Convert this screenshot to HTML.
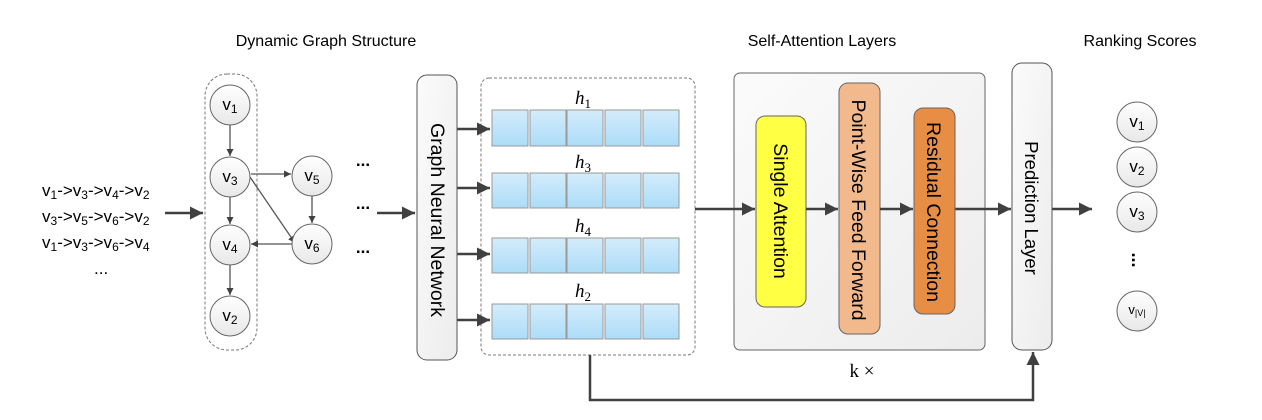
<!DOCTYPE html>
<html><head><meta charset="utf-8"><style>
body{margin:0;background:#fff}
svg{display:block;font-family:"Liberation Sans",sans-serif}
</style></head><body>
<svg width="1262" height="420" viewBox="0 0 1262 420" xmlns="http://www.w3.org/2000/svg">
<defs>
<marker id="a" viewBox="0 0 10 10" refX="10" refY="5" markerWidth="7" markerHeight="7" orient="auto" markerUnits="userSpaceOnUse"><path d="M0,0L10,5L0,10z" fill="#404040"/></marker>
<marker id="b" viewBox="0 0 10 10" refX="10" refY="5" markerWidth="13" markerHeight="13" orient="auto" markerUnits="userSpaceOnUse"><path d="M0,0L10,5L0,10z" fill="#404040"/></marker>
<linearGradient id="g" x1="0" y1="0" x2="0" y2="1"><stop offset="0" stop-color="#fff"/><stop offset="1" stop-color="#e8e8e8"/></linearGradient>
<linearGradient id="c" x1="0" y1="0" x2="0" y2="1"><stop offset="0" stop-color="#d4ecfb"/><stop offset="1" stop-color="#acdcf8"/></linearGradient>
<linearGradient id="p" x1="0" y1="0" x2="1" y2="1"><stop offset="0" stop-color="#fbfbfb"/><stop offset="1" stop-color="#ececec"/></linearGradient>
</defs>
<g font-size="16" fill="#000">
<text x="326" y="46" text-anchor="middle">Dynamic Graph Structure</text>
<text x="822" y="46" text-anchor="middle">Self-Attention Layers</text>
<text x="1140" y="46" text-anchor="middle">Ranking Scores</text>
</g>
<g font-size="17">
<text x="42" y="196">v<tspan font-size="12" dy="3">1</tspan><tspan dy="-3">-&gt;v</tspan><tspan font-size="12" dy="3">3</tspan><tspan dy="-3">-&gt;v</tspan><tspan font-size="12" dy="3">4</tspan><tspan dy="-3">-&gt;v</tspan><tspan font-size="12" dy="3">2</tspan></text>
<text x="42" y="222">v<tspan font-size="12" dy="3">3</tspan><tspan dy="-3">-&gt;v</tspan><tspan font-size="12" dy="3">5</tspan><tspan dy="-3">-&gt;v</tspan><tspan font-size="12" dy="3">6</tspan><tspan dy="-3">-&gt;v</tspan><tspan font-size="12" dy="3">2</tspan></text>
<text x="42" y="248">v<tspan font-size="12" dy="3">1</tspan><tspan dy="-3">-&gt;v</tspan><tspan font-size="12" dy="3">3</tspan><tspan dy="-3">-&gt;v</tspan><tspan font-size="12" dy="3">6</tspan><tspan dy="-3">-&gt;v</tspan><tspan font-size="12" dy="3">4</tspan></text>
<text x="94" y="274">...</text>
</g>
<rect x="205" y="74" width="52" height="276" rx="22" fill="none" stroke="#777" stroke-dasharray="3,2"/>
<rect x="481" y="78" width="214" height="277" rx="8" fill="none" stroke="#777" stroke-dasharray="3,2"/>
<rect x="734" y="73" width="251" height="277" rx="6" fill="url(#p)" stroke="#666"/>
<g stroke="#404040" stroke-width="2.5" fill="none">
<line x1="165" y1="213" x2="203" y2="213" marker-end="url(#b)"/>
<line x1="377" y1="213" x2="415" y2="213" marker-end="url(#b)"/>
<line x1="457" y1="129" x2="490" y2="129" marker-end="url(#b)"/>
<line x1="457" y1="188" x2="490" y2="188" marker-end="url(#b)"/>
<line x1="457" y1="254" x2="490" y2="254" marker-end="url(#b)"/>
<line x1="457" y1="320" x2="490" y2="320" marker-end="url(#b)"/>
<line x1="695" y1="209" x2="755" y2="209" marker-end="url(#b)"/>
<line x1="955" y1="209" x2="1011" y2="209" marker-end="url(#b)"/>
<line x1="1052" y1="209" x2="1092" y2="209" marker-end="url(#b)"/>
<polyline points="590,355 590,400 1033,400 1033,352" marker-end="url(#b)"/>
</g>
<g stroke="#555" stroke-width="1.3" fill="none">
<line x1="230" y1="125" x2="230" y2="156" marker-end="url(#a)"/>
<line x1="230" y1="197" x2="230" y2="224" marker-end="url(#a)"/>
<line x1="230" y1="265" x2="230" y2="295" marker-end="url(#a)"/>
<line x1="251" y1="174" x2="291" y2="174" marker-end="url(#a)"/>
<line x1="250" y1="177" x2="295" y2="243" marker-end="url(#a)"/>
<line x1="312" y1="196" x2="312" y2="223" marker-end="url(#a)"/>
<line x1="292" y1="244" x2="251" y2="244" marker-end="url(#a)"/>
</g>
<g fill="url(#g)" stroke="#666" stroke-width="1">
<circle cx="230" cy="105" r="20"/><circle cx="230" cy="177" r="20"/><circle cx="230" cy="245" r="20"/><circle cx="230" cy="316" r="20"/>
<circle cx="312" cy="176" r="20"/><circle cx="312" cy="244" r="20"/>
<circle cx="1137" cy="122" r="20"/><circle cx="1137" cy="167" r="20"/><circle cx="1137" cy="212" r="20"/><circle cx="1137" cy="311" r="20"/>
</g>
<g font-size="17" text-anchor="middle">
<text x="230" y="110">v<tspan font-size="12" dy="3">1</tspan></text>
<text x="230" y="182">v<tspan font-size="12" dy="3">3</tspan></text>
<text x="230" y="250">v<tspan font-size="12" dy="3">4</tspan></text>
<text x="230" y="321">v<tspan font-size="12" dy="3">2</tspan></text>
<text x="312" y="181">v<tspan font-size="12" dy="3">5</tspan></text>
<text x="312" y="249">v<tspan font-size="12" dy="3">6</tspan></text>
<text x="1137" y="127">v<tspan font-size="12" dy="3">1</tspan></text>
<text x="1137" y="172">v<tspan font-size="12" dy="3">2</tspan></text>
<text x="1137" y="217">v<tspan font-size="12" dy="3">3</tspan></text>
<text x="1137" y="314" font-size="13">v<tspan font-size="9" dy="2">|V|</tspan></text>
</g>
<g font-size="17" font-weight="bold" text-anchor="middle">
<text x="363" y="166">...</text><text x="363" y="209">...</text><text x="363" y="253">...</text>
</g>
<text x="1137" y="265" font-size="18" font-weight="bold" text-anchor="middle" transform="rotate(90 1137 260)">...</text>
<rect x="417" y="75" width="40" height="285" rx="10" fill="url(#p)" stroke="#555"/>
<text transform="translate(431,220) rotate(90)" font-size="19.5" text-anchor="middle">Graph Neural Network</text>
<g fill="url(#c)" stroke="#999">
<rect x="492" y="110" width="36" height="36"/><rect x="530" y="110" width="36" height="36"/><rect x="567" y="110" width="36" height="36"/><rect x="605" y="110" width="36" height="36"/><rect x="643" y="110" width="36" height="36"/>
<rect x="492" y="173" width="36" height="35"/><rect x="530" y="173" width="36" height="35"/><rect x="567" y="173" width="36" height="35"/><rect x="605" y="173" width="36" height="35"/><rect x="643" y="173" width="36" height="35"/>
<rect x="492" y="238" width="36" height="35"/><rect x="530" y="238" width="36" height="35"/><rect x="567" y="238" width="36" height="35"/><rect x="605" y="238" width="36" height="35"/><rect x="643" y="238" width="36" height="35"/>
<rect x="492" y="304" width="36" height="35"/><rect x="530" y="304" width="36" height="35"/><rect x="567" y="304" width="36" height="35"/><rect x="605" y="304" width="36" height="35"/><rect x="643" y="304" width="36" height="35"/>
</g>
<g font-family="Liberation Serif,serif" font-style="italic" font-size="19">
<text x="575" y="104">h<tspan font-style="normal" font-size="13" dy="4">1</tspan></text>
<text x="575" y="168">h<tspan font-style="normal" font-size="13" dy="4">3</tspan></text>
<text x="575" y="232">h<tspan font-style="normal" font-size="13" dy="4">4</tspan></text>
<text x="575" y="297">h<tspan font-style="normal" font-size="13" dy="4">2</tspan></text>
</g>
<rect x="756" y="116" width="50" height="191" rx="9" fill="#ffff44" stroke="#666"/>
<rect x="839" y="83" width="41" height="251" rx="9" fill="#f2b98c" stroke="#666"/>
<rect x="914" y="108" width="41" height="206" rx="9" fill="#e88e44" stroke="#666"/>
<g stroke="#404040" stroke-width="2.5">
<line x1="806" y1="209" x2="838" y2="209" marker-end="url(#b)"/>
<line x1="880" y1="209" x2="913" y2="209" marker-end="url(#b)"/>
</g>
<rect x="1012" y="63" width="40" height="287" rx="10" fill="url(#p)" stroke="#555"/>
<g font-size="19.5" text-anchor="middle">
<text transform="translate(774,211) rotate(90)">Single Attention</text>
<text transform="translate(852,210) rotate(90)">Point-Wise Feed Forward</text>
<text transform="translate(927,212) rotate(90)">Residual Connection</text>
<text transform="translate(1025,208) rotate(90)" font-size="18.5">Prediction Layer</text>
</g>
<text x="862" y="377" font-family="Liberation Serif,serif" font-size="19" text-anchor="middle">k ×</text>
</svg>
</body></html>
